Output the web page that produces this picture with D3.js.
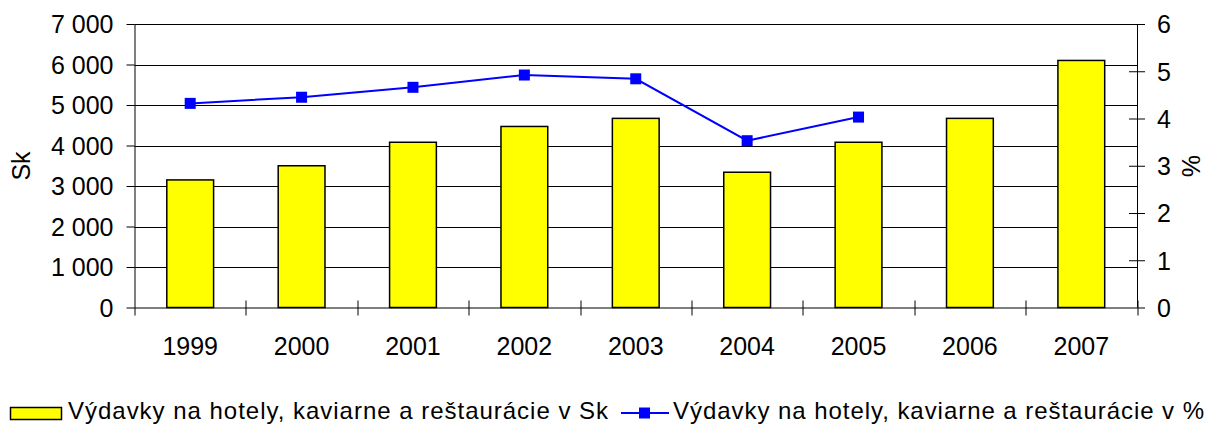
<!DOCTYPE html>
<html>
<head>
<meta charset="utf-8">
<script src="https://cdn.jsdelivr.net/npm/d3@7"></script>
<style>
  body { margin: 0; background: #fff; }
  text { font-family: "Liberation Sans", Arial, sans-serif; fill: #000; }
</style>
</head>
<body>
<div id="chart"></div>
<script>
// Data
const years = ["1999", "2000", "2001", "2002", "2003", "2004", "2005", "2006", "2007"];
const spendSk = [3150, 3500, 4080, 4470, 4670, 3340, 4080, 4670, 6100];
const spendPct = [4.32, 4.45, 4.66, 4.92, 4.84, 3.53, 4.03, null, null];
const leftTicks = [0, 1000, 2000, 3000, 4000, 5000, 6000, 7000];
const rightTicks = [0, 1, 2, 3, 4, 5, 6];
const legendLabels = [
    "Výdavky na hotely, kaviarne a reštaurácie v Sk",
    "Výdavky na hotely, kaviarne a reštaurácie v %"
];

const W = 1207, H = 425;
const margin = { top: 24, right: 70, bottom: 117.5, left: 134.5 };
const width = W - margin.left - margin.right;
const height = H - margin.top - margin.bottom;

const svg = d3.select("#chart")
    .append("svg")
    .attr("width", W)
    .attr("height", H);

const g = svg.append("g")
    .attr("transform", `translate(${margin.left},${margin.top})`);

// Scales
const x = d3.scaleBand().domain(years).range([0, width]).paddingInner(0.58).paddingOuter(0.29);
const xCat = d3.scaleBand().domain(years).range([0, width]);
const yL = d3.scaleLinear().domain([0, 7000]).range([height, 0]);
const yR = d3.scaleLinear().domain([0, 6]).range([height, 0]);

const fmt = d => d3.format(",")(d).replace(/,/g, " ");

// Gridlines
g.append("g")
    .selectAll("line")
    .data(leftTicks.filter(d => d > 0))
    .enter()
    .append("line")
    .attr("x1", 0).attr("x2", width)
    .attr("y1", d => Math.round(yL(d)) + 0.5)
    .attr("y2", d => Math.round(yL(d)) + 0.5)
    .attr("stroke", "#000")
    .attr("stroke-width", 1);

// Bars
g.append("g")
    .selectAll("rect")
    .data(spendSk)
    .enter()
    .append("rect")
    .attr("x", (d, i) => x(years[i]))
    .attr("y", d => yL(d))
    .attr("width", x.bandwidth())
    .attr("height", d => height - yL(d))
    .attr("fill", "#ffff00")
    .attr("stroke", "#000")
    .attr("stroke-width", 1.5);

// Left axis
const leftAxis = g.append("g")
    .call(d3.axisLeft(yL).tickValues(leftTicks).tickSize(8).tickPadding(13).tickFormat(fmt));
leftAxis.select(".domain").attr("d", `M0.5,0V${height + 8}`);
leftAxis.selectAll("text").style("font-size", "25px").attr("dy", "0.35em");

// Right axis
const rightAxis = g.append("g")
    .attr("transform", `translate(${width},0)`)
    .call(d3.axisRight(yR).tickValues(rightTicks).tickSize(8).tickPadding(12).tickFormat(d3.format("d")));
rightAxis.select(".domain").attr("d", `M0.5,0V${height}`);
rightAxis.selectAll(".tick line").attr("x1", d => (d === 0 || d === 6) ? 0 : -8);
rightAxis.selectAll("text").style("font-size", "25px").attr("dy", "0.35em");

// Bottom axis with category boundary ticks
const bottom = g.append("g").attr("transform", `translate(0,${height})`);
bottom.append("line")
    .attr("x1", 0).attr("x2", width)
    .attr("y1", 0.5).attr("y2", 0.5)
    .attr("stroke", "#000");
bottom.selectAll(".bound")
    .data(years.slice(1).concat(["end"]))
    .enter()
    .append("line")
    .attr("x1", (d, i) => Math.round(xCat.step() * (i + 1)) + 0.5)
    .attr("x2", (d, i) => Math.round(xCat.step() * (i + 1)) + 0.5)
    .attr("y1", -7).attr("y2", 8)
    .attr("stroke", "#000");
bottom.selectAll(".xlab")
    .data(years)
    .enter()
    .append("text")
    .attr("x", d => xCat(d) + xCat.bandwidth() / 2)
    .attr("y", 47)
    .attr("text-anchor", "middle")
    .style("font-size", "25px")
    .text(d => d);

// Line series (percent)
const line = d3.line()
    .defined(d => d != null)
    .x((d, i) => xCat(years[i]) + xCat.bandwidth() / 2)
    .y(d => yR(d));

g.append("path")
    .datum(spendPct)
    .attr("fill", "none")
    .attr("stroke", "#0000ff")
    .attr("stroke-width", 2)
    .attr("d", line);

g.append("g")
    .selectAll("rect")
    .data(spendPct.map((v, i) => ({ v, i })).filter(d => d.v != null))
    .enter()
    .append("rect")
    .attr("x", d => xCat(years[d.i]) + xCat.bandwidth() / 2 - 5.5)
    .attr("y", d => yR(d.v) - 5.5)
    .attr("width", 11)
    .attr("height", 11)
    .attr("fill", "#0000ff");

// Axis titles
svg.append("text")
    .attr("transform", "translate(30,166) rotate(-90)")
    .attr("text-anchor", "middle")
    .style("font-size", "25px")
    .text("Sk");
svg.append("text")
    .attr("transform", "translate(1182,166) rotate(90)")
    .attr("text-anchor", "middle")
    .style("font-size", "25px")
    .text("%");

// Legend
const legend = svg.append("g");
legend.append("rect")
    .attr("x", 10.5).attr("y", 407.5)
    .attr("width", 51).attr("height", 12)
    .attr("fill", "#ffff00")
    .attr("stroke", "#000")
    .attr("stroke-width", 1.5);
legend.append("text")
    .attr("x", 68).attr("y", 419)
    .attr("textLength", 540)
    .attr("lengthAdjust", "spacing")
    .style("font-size", "24px")
    .text(legendLabels[0]);
legend.append("line")
    .attr("x1", 621).attr("x2", 669)
    .attr("y1", 413).attr("y2", 413)
    .attr("stroke", "#0000ff")
    .attr("stroke-width", 2);
legend.append("rect")
    .attr("x", 639).attr("y", 407.5)
    .attr("width", 11).attr("height", 11)
    .attr("fill", "#0000ff");
legend.append("text")
    .attr("x", 673).attr("y", 419)
    .attr("textLength", 531)
    .attr("lengthAdjust", "spacing")
    .style("font-size", "24px")
    .text(legendLabels[1]);
</script>
</body>
</html>
